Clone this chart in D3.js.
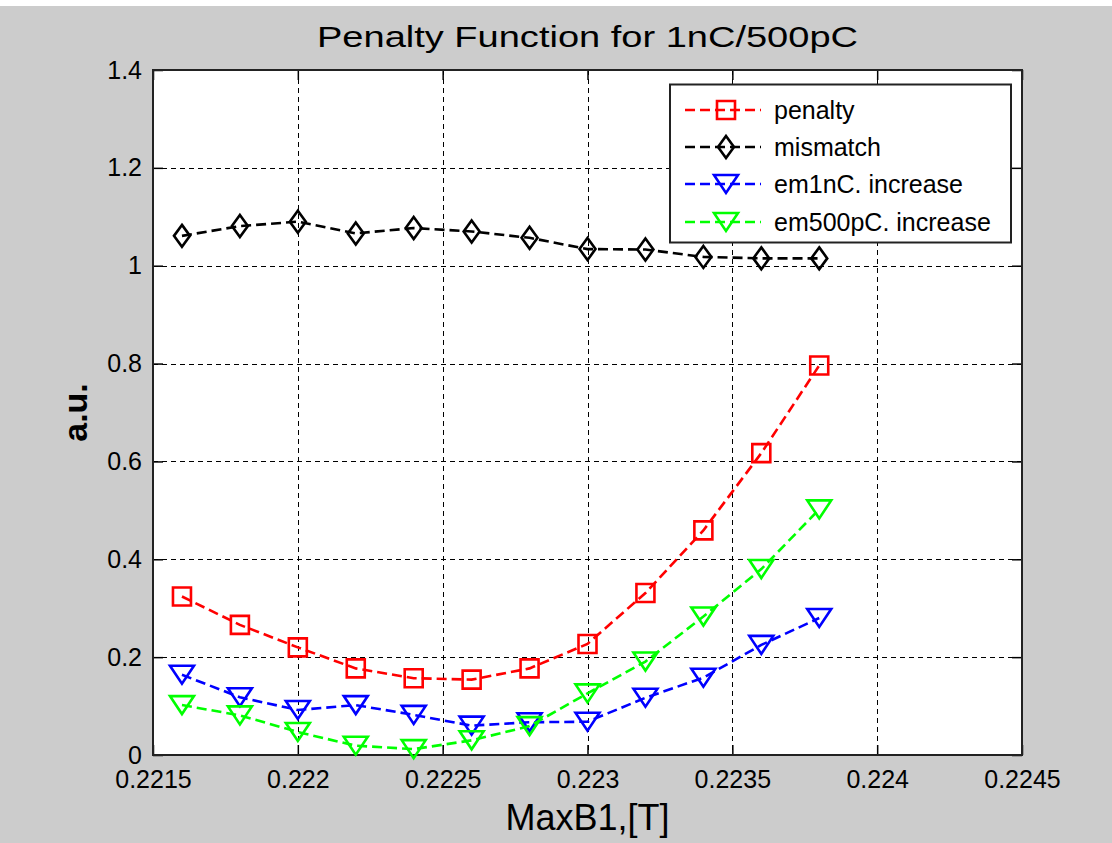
<!DOCTYPE html>
<html>
<head>
<meta charset="utf-8">
<script src="https://cdn.jsdelivr.net/npm/d3@7"></script>
<style>
  body { margin: 0; background: #cccccc; }
  svg { display: block; }
  text { font-family: "Liberation Sans", Arial, sans-serif; fill: #000; }
</style>
</head>
<body>
<div id="chart"></div>
<script>
// values
var maxB1 = [0.2216, 0.2218, 0.2220, 0.2222, 0.2224, 0.2226, 0.2228, 0.2230, 0.2232, 0.2234, 0.2236, 0.2238];
var penalty = [0.324, 0.266, 0.220, 0.177, 0.157, 0.154, 0.177, 0.227, 0.331, 0.459, 0.617, 0.796];
var mismatch = [1.061, 1.081, 1.090, 1.066, 1.077, 1.070, 1.057, 1.034, 1.033, 1.018, 1.015, 1.015];
var em1nC = [0.164, 0.118, 0.092, 0.102, 0.082, 0.060, 0.067, 0.068, 0.117, 0.158, 0.225, 0.280];
var em500pC = [0.102, 0.081, 0.047, 0.019, 0.012, 0.030, 0.059, 0.126, 0.191, 0.283, 0.380, 0.502];

var seriesNames = ["penalty", "mismatch", "em1nC. increase", "em500pC. increase"];
var xTicks = [0.2215, 0.2220, 0.2225, 0.2230, 0.2235, 0.2240, 0.2245];
var xTickLabels = ["0.2215", "0.222", "0.2225", "0.223", "0.2235", "0.224", "0.2245"];
var yTicks = [0, 0.2, 0.4, 0.6, 0.8, 1.0, 1.2, 1.4];
var yTickLabels = ["0", "0.2", "0.4", "0.6", "0.8", "1", "1.2", "1.4"];

function init() {
  var w = 1112, h = 843;
  var left = 153, right = 1022, top = 70, bottom = 755;

  var svg = d3.select("#chart").append("svg")
              .attr("width", w)
              .attr("height", h);

  // white strip at the very top, grey figure below
  svg.append("rect").attr("width", w).attr("height", h).attr("fill", "#ffffff");
  svg.append("rect").attr("y", 6).attr("width", w).attr("height", h - 6).attr("fill", "#cccccc");

  var xScale = d3.scaleLinear().domain([0.2215, 0.2245]).range([left, right]);
  var yScale = d3.scaleLinear().domain([0, 1.4]).range([bottom, top]);

  svg.append("rect")
     .attr("x", left).attr("y", top)
     .attr("width", right - left).attr("height", bottom - top)
     .attr("fill", "#ffffff");

  // grid
  var grid = svg.append("g").attr("stroke", "#000").attr("stroke-width", 1)
                .attr("stroke-dasharray", "5,4");
  grid.selectAll(".vg").data(xTicks.slice(1, -1)).enter().append("line")
      .attr("x1", function(d) { return Math.round(xScale(d)) + 0.5; })
      .attr("x2", function(d) { return Math.round(xScale(d)) + 0.5; })
      .attr("y1", top).attr("y2", bottom);
  grid.selectAll(".hg").data(yTicks.slice(1, -1)).enter().append("line")
      .attr("y1", function(d) { return Math.round(yScale(d)) + 0.5; })
      .attr("y2", function(d) { return Math.round(yScale(d)) + 0.5; })
      .attr("x1", left).attr("x2", right);

  // axes, ticks pointing inward
  var xAxis = d3.axisBottom(xScale).tickValues(xTicks)
                .tickFormat(function(d, i) { return xTickLabels[i]; })
                .tickSizeInner(-10).tickSizeOuter(0).tickPadding(15);
  var yAxis = d3.axisLeft(yScale).tickValues(yTicks)
                .tickFormat(function(d, i) { return yTickLabels[i]; })
                .tickSizeInner(-10).tickSizeOuter(0).tickPadding(11);
  var xTop = d3.axisTop(xScale).tickValues(xTicks).tickFormat("")
               .tickSizeInner(-10).tickSizeOuter(0);
  var yRight = d3.axisRight(yScale).tickValues(yTicks).tickFormat("")
                 .tickSizeInner(-10).tickSizeOuter(0);

  function styleAxis(g) {
    g.select(".domain").remove();
    g.selectAll(".tick line").attr("stroke", "#000").attr("stroke-width", 1.5);
    g.selectAll("text").attr("font-size", 25)
     .attr("font-family", "'Liberation Sans', Arial, sans-serif").attr("fill", "#000");
  }

  svg.append("g").attr("transform", "translate(0," + bottom + ")").call(xAxis).call(styleAxis);
  svg.append("g").attr("transform", "translate(" + left + ",0)").call(yAxis).call(styleAxis);
  svg.append("g").attr("transform", "translate(0," + top + ")").call(xTop).call(styleAxis);
  svg.append("g").attr("transform", "translate(" + right + ",0)").call(yRight).call(styleAxis);

  svg.append("rect")
     .attr("x", left).attr("y", top)
     .attr("width", right - left).attr("height", bottom - top)
     .attr("fill", "none").attr("stroke", "#222").attr("stroke-width", 2);

  // series
  var series = [
    { name: seriesNames[0], values: penalty, color: "#ff0000", marker: "square" },
    { name: seriesNames[1], values: mismatch, color: "#000000", marker: "diamond" },
    { name: seriesNames[2], values: em1nC, color: "#0000ff", marker: "tri" },
    { name: seriesNames[3], values: em500pC, color: "#00ff00", marker: "tri" }
  ];

  function markerPath(type) {
    if (type === "square") return "M-9,-9H9V9H-9Z";
    if (type === "diamond") return "M0,-11L8,0L0,11L-8,0Z";
    return "M-12,-9H12L0,9Z";
  }

  var line = d3.line()
               .x(function(d, i) { return xScale(maxB1[i]); })
               .y(function(d) { return yScale(d); });

  series.forEach(function(s) {
    svg.append("path")
       .datum(s.values)
       .attr("d", line)
       .attr("fill", "none")
       .attr("stroke", s.color)
       .attr("stroke-width", 2.6)
       .attr("stroke-dasharray", "10,5");

    svg.selectAll(null).data(s.values).enter().append("path")
       .attr("d", markerPath(s.marker))
       .attr("transform", function(d, i) {
         return "translate(" + xScale(maxB1[i]) + "," + yScale(d) + ")";
       })
       .attr("fill", "none")
       .attr("stroke", s.color)
       .attr("stroke-width", 2.6);
  });

  // legend
  var lg = svg.append("g");
  lg.append("rect")
    .attr("x", 670).attr("y", 84.5).attr("width", 341).attr("height", 158)
    .attr("fill", "#ffffff").attr("stroke", "#222").attr("stroke-width", 2);
  var rowY = [110, 147, 184, 222];
  series.forEach(function(s, i) {
    lg.append("line")
      .attr("x1", 685).attr("x2", 761).attr("y1", rowY[i]).attr("y2", rowY[i])
      .attr("stroke", s.color).attr("stroke-width", 2.6).attr("stroke-dasharray", "10,5");
    lg.append("path")
      .attr("d", markerPath(s.marker))
      .attr("transform", "translate(726," + rowY[i] + ")")
      .attr("fill", "none").attr("stroke", s.color).attr("stroke-width", 2.6);
    lg.append("text")
      .attr("x", 774).attr("y", rowY[i]).attr("dy", "0.35em")
      .attr("font-size", 25)
      .text(s.name);
  });

  // titles
  svg.append("text")
     .attr("x", (left + right) / 2).attr("y", 47)
     .attr("text-anchor", "middle")
     .attr("font-size", 30)
     .attr("textLength", 541).attr("lengthAdjust", "spacingAndGlyphs")
     .text("Penalty Function for 1nC/500pC");

  svg.append("text")
     .attr("x", (left + right) / 2).attr("y", 830)
     .attr("text-anchor", "middle")
     .attr("font-size", 36)
     .text("MaxB1,[T]");

  svg.append("text")
     .attr("transform", "translate(87," + (top + bottom) / 2 + ") rotate(-90)")
     .attr("text-anchor", "middle")
     .attr("font-size", 34)
     .attr("font-weight", "bold")
     .text("a.u.");
}

window.onload = init;
</script>
</body>
</html>
